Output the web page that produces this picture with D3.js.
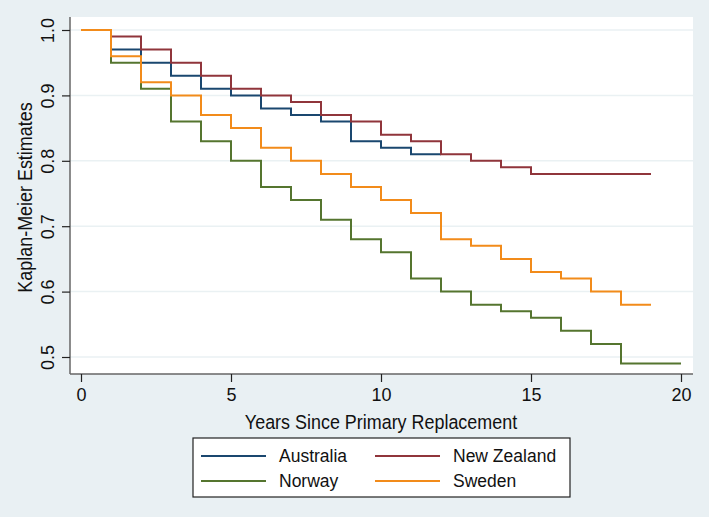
<!DOCTYPE html>
<html>
<head>
<meta charset="utf-8">
<script src="https://cdn.jsdelivr.net/npm/d3@7"></script>
<style>
  body { margin: 0; background: #e9f0f3; }
  svg { display: block; font-family: "Liberation Sans", Arial, sans-serif; }
</style>
</head>
<body>
<script>
// values at each whole year (step starts at that year), last step runs to endYear
var countries = ["Australia", "New Zealand", "Norway", "Sweden"];
var australia = [1.00, 0.97, 0.95, 0.93, 0.91, 0.90, 0.88, 0.87, 0.86, 0.83, 0.82, 0.81];
var newZealand = [1.00, 0.99, 0.97, 0.95, 0.93, 0.91, 0.90, 0.89, 0.87, 0.86, 0.84, 0.83, 0.81, 0.80, 0.79, 0.78, 0.78, 0.78, 0.78];
var norway = [1.00, 0.95, 0.91, 0.86, 0.83, 0.80, 0.76, 0.74, 0.71, 0.68, 0.66, 0.62, 0.60, 0.58, 0.57, 0.56, 0.54, 0.52, 0.49, 0.49];
var sweden = [1.00, 0.96, 0.92, 0.90, 0.87, 0.85, 0.82, 0.80, 0.78, 0.76, 0.74, 0.72, 0.68, 0.67, 0.65, 0.63, 0.62, 0.60, 0.58];
var endYears = [12, 19, 20, 19];
var colors = ["#1a476f", "#90353b", "#55752f", "#f28b1a"];
var xTicks = [0, 5, 10, 15, 20];
var yTicks = [0.5, 0.6, 0.7, 0.8, 0.9, 1.0];

var width = 709, height = 517;
var plot = { left: 70, top: 17, right: 693, bottom: 374 };

var svg = d3.select("body").append("svg")
    .attr("width", width)
    .attr("height", height);

svg.append("rect")
    .attr("width", width).attr("height", height)
    .attr("fill", "#e9f0f3");

svg.append("rect")
    .attr("x", plot.left).attr("y", plot.top)
    .attr("width", plot.right - plot.left)
    .attr("height", plot.bottom - plot.top)
    .attr("fill", "#ffffff");

var x = d3.scaleLinear().domain([0, 20]).range([81, 681]);
var y = d3.scaleLinear().domain([0.5, 1.0]).range([357, 30]);

// grid
svg.append("g").selectAll("line")
    .data(yTicks)
  .enter().append("line")
    .attr("x1", plot.left).attr("x2", plot.right)
    .attr("y1", function(d) { return y(d); })
    .attr("y2", function(d) { return y(d); })
    .attr("stroke", "#eaf1f3")
    .attr("stroke-width", 1.5);

// axes
var xAxis = svg.append("g")
    .attr("transform", "translate(0," + plot.bottom + ")")
    .call(d3.axisBottom(x).tickValues(xTicks).tickSize(8).tickPadding(6).tickFormat(d3.format("d")));
xAxis.select(".domain").attr("d", "M" + plot.left + ",0H" + plot.right)
    .attr("stroke", "#666").attr("stroke-width", 1.5);

var yAxis = svg.append("g")
    .attr("transform", "translate(" + plot.left + ",0)")
    .call(d3.axisLeft(y).tickValues(yTicks).tickSize(8).tickPadding(6).tickFormat(d3.format(".1f")));
yAxis.select(".domain").attr("d", "M0," + plot.top + "V" + plot.bottom)
    .attr("stroke", "#666").attr("stroke-width", 1.5);

svg.selectAll(".tick line").attr("stroke", "#222").attr("stroke-width", 1.2);
svg.selectAll(".tick text").attr("fill", "#111").style("font-size", "18px")
    .style("font-family", "'Liberation Sans', Arial, sans-serif");

yAxis.selectAll(".tick text")
    .attr("x", null).attr("dy", null)
    .attr("text-anchor", "middle")
    .attr("transform", function() { return "translate(-22,0) rotate(-90)"; })
    .attr("dy", "0.35em");

svg.append("text")
    .attr("transform", "translate(25," + ((plot.top + plot.bottom) / 2 + 2) + ") rotate(-90) scale(0.92,1)")
    .attr("text-anchor", "middle")
    .attr("dy", "0.35em")
    .style("font-size", "19.5px")
    .attr("fill", "#111")
    .text("Kaplan-Meier Estimates");

svg.append("text")
    .attr("transform", "translate(381,422) scale(0.92,1)")
    .attr("text-anchor", "middle")
    .attr("dy", "0.35em")
    .style("font-size", "19.5px")
    .attr("fill", "#111")
    .text("Years Since Primary Replacement");

// curves
var series = [australia, newZealand, norway, sweden].map(function(vals, i) {
  var pts = vals.map(function(v, t) { return [t, v]; });
  pts.push([endYears[i], vals[vals.length - 1]]);
  return { name: countries[i], color: colors[i], points: pts };
});

var line = d3.line()
    .x(function(d) { return x(d[0]); })
    .y(function(d) { return y(d[1]); })
    .curve(d3.curveStepAfter);

svg.append("g").selectAll("path")
    .data(series)
  .enter().append("path")
    .attr("d", function(d) { return line(d.points); })
    .attr("fill", "none")
    .attr("stroke", function(d) { return d.color; })
    .attr("stroke-width", 2);

// legend
var legend = svg.append("g");
legend.append("rect")
    .attr("x", 193).attr("y", 438)
    .attr("width", 377).attr("height", 59)
    .attr("fill", "#ffffff")
    .attr("stroke", "#222")
    .attr("stroke-width", 1.2);

var items = legend.selectAll("g.item")
    .data(series)
  .enter().append("g")
    .attr("class", "item")
    .attr("transform", function(d, i) {
      return "translate(" + (i % 2 ? 375 : 201) + "," + (i < 2 ? 456 : 481) + ")";
    });

items.append("line")
    .attr("x1", 0).attr("x2", 65)
    .attr("stroke", function(d) { return d.color; })
    .attr("stroke-width", 2);

items.append("text")
    .attr("x", 78)
    .attr("dy", "0.35em")
    .style("font-size", "17.5px")
    .attr("fill", "#111")
    .text(function(d) { return d.name; });
</script>
</body>
</html>
